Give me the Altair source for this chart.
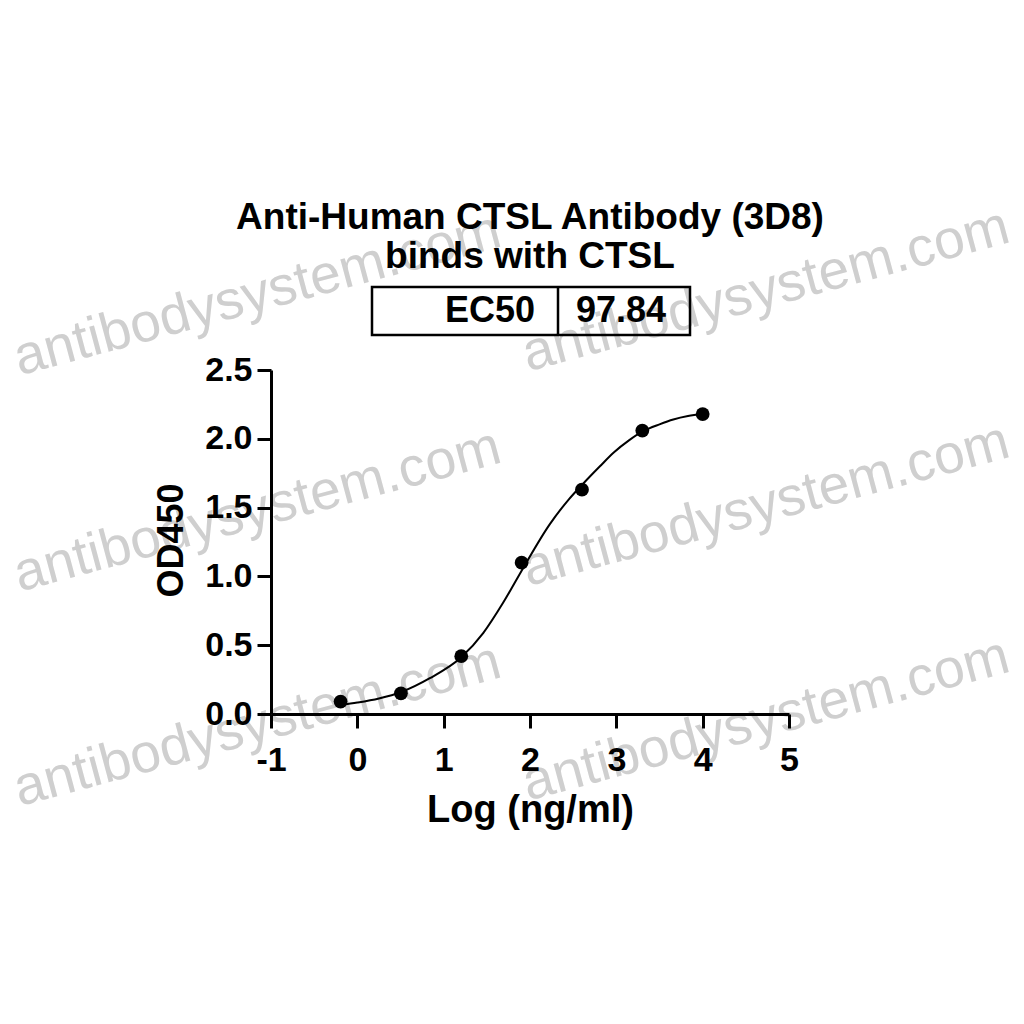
import altair as alt
import pandas as pd

# ---- data ----
log_conc = [-0.194, 0.505, 1.204, 1.903, 2.602, 3.301, 4.0]
od450 = [0.09, 0.15, 0.42, 1.10, 1.63, 2.06, 2.18]

fit_x = [-0.19, 0.0, 0.25, 0.51, 0.84, 1.2, 1.46, 1.69, 1.92, 2.23, 2.45, 2.61,
         2.81, 2.97, 3.15, 3.31, 3.5, 3.66, 3.83, 4.0]
fit_y = [0.065, 0.083, 0.113, 0.16, 0.26, 0.41, 0.59, 0.81, 1.06, 1.38, 1.56, 1.67,
         1.80, 1.90, 1.99, 2.055, 2.105, 2.14, 2.165, 2.18]

x_ticks = [-1, 0, 1, 2, 3, 4, 5]
y_ticks = [0.0, 0.5, 1.0, 1.5, 2.0, 2.5]

title_lines = ["Anti-Human CTSL Antibody (3D8)", "binds with CTSL"]
ec50_label = ["EC50"]
ec50_value = ["97.84"]

wm_text = "antibodysystem.com"
wm_x = [-1.16, 4.73, -1.16, 4.73, -1.16, 4.73]
wm_y = [3.05, 3.08, 1.48, 1.52, -0.08, -0.04]

FONT = "Liberation Sans"

points_df = pd.DataFrame({"x": log_conc, "y": od450})
fit_df = pd.DataFrame({"x": fit_x, "y": fit_y})
wm_df = pd.DataFrame({"x": wm_x, "y": wm_y, "t": [wm_text] * len(wm_x)})
one = pd.DataFrame({"k": [0]})

x_scale = alt.Scale(domain=[-1, 5], nice=False, zero=False)
y_scale = alt.Scale(domain=[0, 2.5], nice=False, zero=False)

x_axis = alt.Axis(
    values=x_ticks, labelExpr="datum.value + ''", grid=False, zindex=1,
    tickSize=14, tickWidth=3, tickColor="black",
    domainWidth=3, domainColor="black",
    labelFont=FONT, labelFontWeight="bold", labelFontSize=34, labelColor="black",
    labelPadding=15, labelFlush=False, labelOverlap=False,
    title="Log (ng/ml)", titleFont=FONT, titleFontWeight="bold", titleFontSize=38,
    titleColor="black", titleX=259, titleY=107, titleBaseline="alphabetic",
    titleAlign="center",
)
y_axis = alt.Axis(
    values=y_ticks, format=".1f", grid=False, zindex=1,
    tickSize=14, tickWidth=3, tickColor="black",
    domainWidth=3, domainColor="black",
    labelFont=FONT, labelFontWeight="bold", labelFontSize=34, labelColor="black",
    labelPadding=5, labelFlush=False, labelOverlap=False,
    title="OD450", titleFont=FONT, titleFontWeight="bold", titleFontSize=36,
    titleColor="black", titleAngle=270, titleX=-89, titleY=170,
    titleBaseline="alphabetic", titleAlign="center",
)

X = alt.X("x:Q", scale=x_scale, axis=x_axis)
Y = alt.Y("y:Q", scale=y_scale, axis=y_axis)

watermark = alt.Chart(wm_df).mark_text(
    angle=345, fontSize=55, font=FONT, color="#cfcfcf", align="center", baseline="middle"
).encode(x=X, y=Y, text="t:N")

fit_line = alt.Chart(fit_df).mark_line(
    color="black", strokeWidth=2, interpolate="monotone"
).encode(x=X, y=Y)

dots = alt.Chart(points_df).mark_circle(size=190, color="black", opacity=1).encode(x=X, y=Y)

title1 = alt.Chart(pd.DataFrame({"t": [title_lines[0]]})).mark_text(
    font=FONT, fontWeight="bold", fontSize=37, color="black", align="center", baseline="alphabetic"
).encode(x=alt.value(259), y=alt.value(-141), text="t:N")
title2 = alt.Chart(pd.DataFrame({"t": [title_lines[1]]})).mark_text(
    font=FONT, fontWeight="bold", fontSize=37, color="black", align="center", baseline="alphabetic"
).encode(x=alt.value(259), y=alt.value(-102), text="t:N")

box = alt.Chart(one).mark_rect(fillOpacity=0, stroke="black", strokeWidth=2.5).encode(
    x=alt.value(101), x2=alt.value(419), y=alt.value(-83), y2=alt.value(-35)
)
divider = alt.Chart(one).mark_rule(color="black", strokeWidth=2.5).encode(
    x=alt.value(287), y=alt.value(-83), y2=alt.value(-35)
)
lab = alt.Chart(pd.DataFrame({"t": ec50_label})).mark_text(
    font=FONT, fontWeight="bold", fontSize=36, color="black", align="right", baseline="alphabetic"
).encode(x=alt.value(264), y=alt.value(-48), text="t:N")
val = alt.Chart(pd.DataFrame({"t": ec50_value})).mark_text(
    font=FONT, fontWeight="bold", fontSize=36, color="black", align="center", baseline="alphabetic"
).encode(x=alt.value(350), y=alt.value(-48), text="t:N")

chart = alt.layer(
    watermark, fit_line, dots, title1, title2, box, divider, lab, val
).properties(
    width=518, height=344, autosize="none", background="white",
    padding={"left": 263, "top": 362, "right": 227, "bottom": 302},
).configure_view(stroke="transparent", strokeWidth=0)

chart.save("out.html", embed_options={"renderer": "svg", "actions": False})
